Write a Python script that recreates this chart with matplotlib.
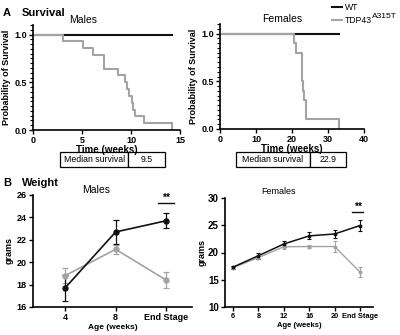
import numpy as np
import matplotlib
matplotlib.use("Agg")
import matplotlib.pyplot as plt
from matplotlib.ticker import MultipleLocator

plt.rcParams['font.family'] = ['Liberation Sans', 'DejaVu Sans']

# survival, males (weeks, probability)
m_wt_t = [0, 14.15]
m_wt_p = [1.0, 1.0]
m_tdp_t = [0, 3.1, 5.13, 6.15, 7.24, 8.7, 9.4, 9.56, 9.83, 10.07, 10.2, 10.4, 11.36, 14.15]
m_tdp_p = [1.0, 0.929, 0.857, 0.786, 0.643, 0.571, 0.5, 0.429, 0.357, 0.286, 0.214, 0.143, 0.071, 0.0]

# survival, females
f_wt_t = [0, 33.0]
f_wt_p = [1.0, 1.0]
f_tdp_t = [0, 20.6, 21.05, 22.65, 22.8, 22.9, 23.1, 23.4, 23.85, 33.0]
f_tdp_p = [1.0, 0.9, 0.8, 0.7, 0.6, 0.5, 0.4, 0.3, 0.1, 0.0]

median_m = "9.5"
median_f = "22.9"

# weight, males
m_ages = ["4", "8", "End Stage"]
m_wt_w = [17.7, 22.7, 23.7]
m_wt_e = [1.15, 1.1, 0.67]
m_tdp_w = [18.8, 21.15, 18.4]
m_tdp_e = [0.67, 0.42, 0.72]

# weight, females
f_ages = ["6", "8", "12", "16", "20", "End Stage"]
f_wt_w = [17.3, 19.4, 21.55, 23.05, 23.4, 24.95]
f_wt_e = [0.3, 0.6, 0.6, 0.65, 0.7, 1.0]
f_tdp_w = [17.2, 19.05, 21.05, 21.1, 21.1, 16.4]
f_tdp_e = [0.3, 0.3, 0.4, 0.3, 1.0, 0.9]

black = "#111111"
grey = "#a3a3a3"

fig = plt.figure(figsize=(4.0, 3.35), dpi=100)

def style(ax, size=6.5):
    for s in ["top", "right"]:
        ax.spines[s].set_visible(False)
    for s in ["left", "bottom"]:
        ax.spines[s].set_linewidth(1.2)
    ax.tick_params(which="major", width=1.0, length=3, labelsize=size, pad=1.5)

def bold_ticks(ax):
    for lab in ax.get_xticklabels() + ax.get_yticklabels():
        lab.set_fontweight("bold")

# ---- A survival
axA1 = fig.add_axes([33/400, 1-130/335, 147/400, 105/335])
axA2 = fig.add_axes([220/400, 1-129/335, 144/400, 105/335])

for ax, wt_t, wt_p, tdp_t, tdp_p, xmax, xstep, title, tx in [
        (axA1, m_wt_t, m_wt_p, m_tdp_t, m_tdp_p, 15, 5, "Males", 0.34),
        (axA2, f_wt_t, f_wt_p, f_tdp_t, f_tdp_p, 40, 10, "Females", 0.43)]:
    ax.step(wt_t, wt_p, where="post", color=black, lw=1.5, label="WT")
    ax.step(tdp_t, tdp_p, where="post", color=grey, lw=1.5, label="TDP43")
    ax.plot([tdp_t[-1], tdp_t[-1]], [tdp_p[-2], 0], color=grey, lw=1.5)
    ax.set_xlim(0, xmax)
    ax.set_ylim(0, 1.1)
    ax.set_xticks(np.arange(0, xmax + 1, xstep))
    ax.set_yticks([0, 0.5, 1.0])
    ax.yaxis.set_minor_locator(MultipleLocator(0.05))
    style(ax)
    ax.tick_params(axis="y", which="minor", length=2, width=0.8)
    bold_ticks(ax)
    ax.set_title(title, fontsize=7.5, pad=1, x=tx)
    ax.set_xlabel("Time (weeks)", fontsize=7, fontweight="bold", labelpad=0)
    ax.set_ylabel("Probability of Survival", fontsize=6.5, fontweight="bold", labelpad=2)

t1 = axA1.table(cellText=[["Median survival", median_m]], colWidths=[0.65, 0.35],
                bbox=[27/147, -37/105, 105/147, 15/105], cellLoc="center")
t2 = axA2.table(cellText=[["Median survival", median_f]], colWidths=[0.67, 0.33],
                bbox=[16/144, -38/105, 110/144, 15/105], cellLoc="center")
for t in (t1, t2):
    t.auto_set_font_size(False)
    t.set_fontsize(6.3)
    for c in t.get_celld().values():
        c.set_linewidth(0.9)

h, l = axA1.get_legend_handles_labels()
leg = fig.legend(h, l, loc="upper left", bbox_to_anchor=(0.826, 0.996), frameon=False,
                 fontsize=6.2, handlelength=1.2, handletextpad=0.3, labelspacing=0.5,
                 borderaxespad=0, borderpad=0.2)
fig.canvas.draw()
tb = leg.get_texts()[1].get_window_extent()
fig.text(tb.x1 / 400 + 0.001, tb.y1 / 335 + 0.001, "A315T", fontsize=6, va="center", ha="left")

fig.text(0.008, 1-13/335, "A", fontsize=8, fontweight="bold", va="center")
fig.text(0.055, 1-13/335, "Survival", fontsize=8, fontweight="bold", va="center")
fig.text(0.008, 1-183/335, "B", fontsize=8, fontweight="bold", va="center")
fig.text(0.055, 1-183/335, "Weight", fontsize=8, fontweight="bold", va="center")

# ---- B weight
axB1 = fig.add_axes([33/400, 1-307/335, 159/400, 112/335])
axB2 = fig.add_axes([225/400, 1-307/335, 148/400, 109/335])

xm = np.arange(len(m_ages))
axB1.errorbar(xm, m_tdp_w, yerr=m_tdp_e, color=grey, marker="o", ms=3.6, lw=1.2,
              capsize=2, elinewidth=0.9, capthick=0.9)
axB1.errorbar(xm, m_wt_w, yerr=m_wt_e, color=black, marker="o", ms=3.6, lw=1.2,
              capsize=2, elinewidth=0.9, capthick=0.9)
axB1.set_xlim(-0.634, 2.51)
axB1.set_ylim(16, 26)
axB1.set_yticks(np.arange(16, 27, 2))
axB1.set_xticks(xm)
axB1.set_xticklabels(m_ages)
style(axB1)
bold_ticks(axB1)
axB1.set_title("Males", fontsize=7.5, pad=1, x=0.40)
axB1.set_xlabel("Age (weeks)", fontsize=6, fontweight="bold", labelpad=1)
axB1.set_ylabel("grams", fontsize=6.5, fontweight="bold", labelpad=2)
axB1.plot([xm[-1] - 0.16, xm[-1] + 0.16], [25.25, 25.25], color=black, lw=1.0)
axB1.text(xm[-1], 25.3, "**", ha="center", va="bottom", fontsize=7.5, fontweight="bold")

xf = np.arange(len(f_ages))
axB2.errorbar(xf, f_tdp_w, yerr=f_tdp_e, color=grey, marker="o", ms=1.8, lw=1.0,
              capsize=1.5, elinewidth=0.8, capthick=0.8)
axB2.errorbar(xf, f_wt_w, yerr=f_wt_e, color=black, marker="o", ms=1.8, lw=1.1,
              capsize=1.5, elinewidth=0.8, capthick=0.8)
axB2.set_xlim(-0.31, 5.51)
axB2.set_ylim(10, 30)
axB2.set_yticks(np.arange(10, 31, 5))
axB2.set_xticks(xf)
axB2.set_xticklabels(f_ages)
style(axB2, size=7)
axB2.tick_params(axis="x", labelsize=5.3)
bold_ticks(axB2)
axB2.set_title("Females", fontsize=6.5, pad=3, x=0.36)
axB2.set_xlabel("Age (weeks)", fontsize=5.5, fontweight="bold", labelpad=1)
axB2.set_ylabel("grams", fontsize=6.5, fontweight="bold", labelpad=1)
axB2.plot([xf[-1] - 0.3, xf[-1] + 0.12], [27.4, 27.4], color=black, lw=1.0)
axB2.text(xf[-1] - 0.09, 27.5, "**", ha="center", va="bottom", fontsize=7.5, fontweight="bold")

fig.savefig("out.png", dpi=100)
